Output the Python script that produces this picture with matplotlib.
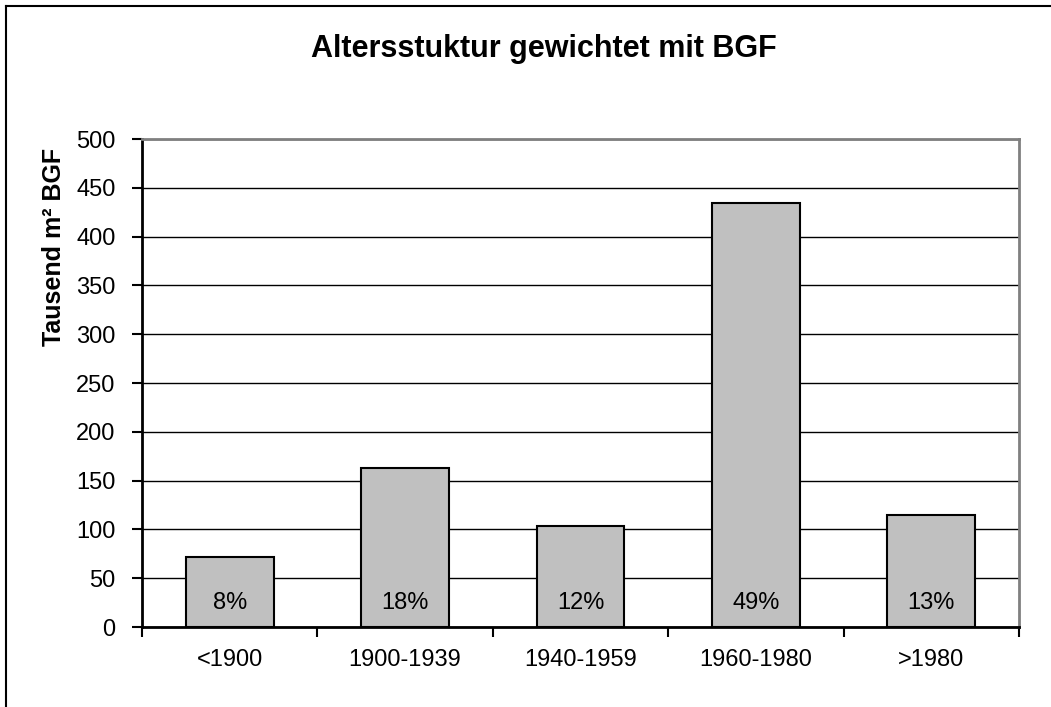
import matplotlib
matplotlib.use("Agg")
from matplotlib import pyplot as plt
from matplotlib.lines import Line2D

plt.rcParams['font.family'] = ['Liberation Sans', 'DejaVu Sans']

categories = ["<1900", "1900-1939", "1940-1959", "1960-1980", ">1980"]
values = [72, 163, 103, 434, 115]
percent_labels = ["8%", "18%", "12%", "49%", "13%"]
yticks = [0, 50, 100, 150, 200, 250, 300, 350, 400, 450, 500]

fig = plt.figure(figsize=(10.51, 7.07), dpi=100)
ax = fig.add_axes([142/1051, 80/707, 877/1051, 488/707])

x = list(range(len(categories)))
ax.bar(x, values, width=0.5, color="#C0C0C0", edgecolor="black", linewidth=1.5, zorder=3)
for i, lab in enumerate(percent_labels):
    ax.text(i, 25, lab, ha="center", va="center", fontsize=17, zorder=4)

ax.set_xlim(-0.5, 4.5)
ax.set_ylim(0, 500)
ax.set_yticks(yticks)
ax.yaxis.grid(True, color="black", linewidth=1)
ax.set_axisbelow(True)

ax.set_xticks(x)
ax.set_xticklabels(categories, fontsize=17)
ax.tick_params(axis="x", which="major", length=0, pad=16)
ax.set_xticks([i - 0.5 for i in range(len(categories) + 1)], minor=True)
ax.tick_params(axis="x", which="minor", length=7, width=1.5, direction="out")
ax.tick_params(axis="y", labelsize=17, length=7, width=1.5, direction="out", pad=12)

for side in ["left", "bottom"]:
    ax.spines[side].set_linewidth(2)
    ax.spines[side].set_color("black")
for side in ["top", "right"]:
    ax.spines[side].set_linewidth(2)
    ax.spines[side].set_color("#808080")

ax.set_ylabel("Tausend m² BGF", fontsize=18, fontweight="bold")
ax.yaxis.set_label_coords(-0.087, 0.779)

fig.text(544/1051, 1 - 49/707, "Altersstuktur gewichtet mit BGF",
         ha="center", va="center", fontsize=22, fontweight="bold")

# chart-area border (only top and left visible, the rest is cropped)
fig.add_artist(Line2D([6/1051, 6/1051], [0, 1 - 6/707], transform=fig.transFigure,
                      color="black", linewidth=1.5))
fig.add_artist(Line2D([6/1051, 1], [1 - 6/707, 1 - 6/707], transform=fig.transFigure,
                      color="black", linewidth=1.5))

fig.savefig("out.png", dpi=100)
